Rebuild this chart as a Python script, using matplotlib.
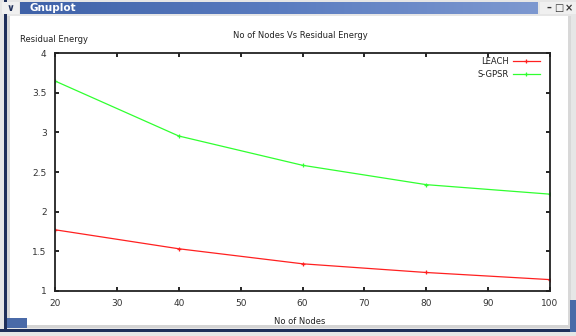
import matplotlib
matplotlib.use("Agg")
import matplotlib.pyplot as plt
from matplotlib.patches import Rectangle
import numpy as np

nodes = [20, 40, 60, 80, 100]
leach = [1.77, 1.53, 1.34, 1.23, 1.14]
sgpsr = [3.65, 2.955, 2.585, 2.34, 2.22]
xticks = [20, 30, 40, 50, 60, 70, 80, 90, 100]
yticks = [1, 1.5, 2, 2.5, 3, 3.5, 4]
ytick_labels = ["1", "1.5", "2", "2.5", "3", "3.5", "4"]

W, H = 576, 336
fig = plt.figure(figsize=(W / 100, H / 100), dpi=100)
fig.patch.set_facecolor("white")

def px(x, y, w, h):
    return (x / W, 1 - (y + h) / H, w / W, h / H)

def rect(x, y, w, h, color, z=-10):
    fx, fy, fw, fh = px(x, y, w, h)
    fig.patches.append(Rectangle((fx, fy), fw, fh, transform=fig.transFigure,
                                 facecolor=color, edgecolor="none", zorder=z))

# window chrome
rect(0, 0, W, 336, "#e6e6e6", -20)
rect(7, 16, W - 14, 310, "white", -19)
rect(4, 0, 3, 331, "#1f2f5a")
rect(0, 329, W, 3, "#1f2f5a")
rect(7, 325, W - 7, 3, "#d4d4d4")
rect(7, 16, 3, 310, "#d8d8d8")
rect(W - 8, 16, 3, 310, "#d8d8d8")
rect(W - 6, 300, 6, 32, "#4a6aa8")
rect(7, 318, 20, 10, "#4a6aa8")
# title bar gradient
grad = np.linspace(0, 1, 256).reshape(1, -1)
tb = fig.add_axes(px(20, 2, 518, 12))
tb.imshow(grad, aspect="auto", cmap=matplotlib.colors.LinearSegmentedColormap.from_list(
    "tb", ["#3f62a8", "#5a7cc0", "#7d98d0"]), extent=(0, 1, 0, 1))
tb.set_axis_off()
rect(2, 2, 17, 12, "#f0f0f0", -5)
rect(540, 2, 36, 12, "#f0f0f0", -5)
fig.text(29 / W, 1 - 8 / H, "Gnuplot", color="white", fontsize=7.5, fontweight="bold",
         va="center", ha="left")
fig.text(10 / W, 1 - 8 / H, "\u2228", color="#1f2f5a", fontsize=7, fontweight="bold",
         va="center", ha="center")
for i, s in enumerate(["\u2013", "\u25a1", "\u00d7"]):
    fig.text((549 + i * 10) / W, 1 - 8 / H, s, color="#333333", fontsize=7,
             fontweight="bold", va="center", ha="center")

# plot area
x0, x1 = 55, 550
y0, y1 = 53.3, 290.7
ax = fig.add_axes((x0 / W, 1 - y1 / H, (x1 - x0) / W, (y1 - y0) / H))
ax.set_facecolor("white")
ax.plot(nodes, leach, color="#ff2020", lw=0.9, marker="+", ms=3, mew=0.9, label="LEACH")
ax.plot(nodes, sgpsr, color="#30ff30", lw=0.9, marker="+", ms=3, mew=0.9, label="S-GPSR")
ax.set_xlim(20, 100)
ax.set_ylim(1, 4)
ax.set_xticks(xticks)
ax.set_yticks(yticks)
ax.set_yticklabels(ytick_labels)
ax.tick_params(direction="in", length=3, width=1.2, top=True, right=True,
               labelsize=6.5, labelcolor="#333333", pad=6)
for sp in ax.spines.values():
    sp.set_linewidth(1.3)
    sp.set_color("#222222")

leg = ax.legend(loc="upper right", bbox_to_anchor=(0.986, 1.0), frameon=False,
                fontsize=6, markerfirst=False, handlelength=3.2, handletextpad=0.5,
                borderaxespad=0.0, labelspacing=0.5)
for t in leg.get_texts():
    t.set_color("#222222")

fig.text(300 / W, 1 - 35 / H, "No of Nodes Vs Residual Energy", fontsize=6,
         ha="center", va="center", color="#222222")
fig.text(20 / W, 1 - 40 / H, "Residual Energy", fontsize=6, ha="left", va="center",
         color="#222222")
fig.text(300 / W, 1 - 322 / H, "No of Nodes", fontsize=6, ha="center", va="center",
         color="#222222")

fig.savefig("out.png", dpi=100, facecolor=fig.get_facecolor())
